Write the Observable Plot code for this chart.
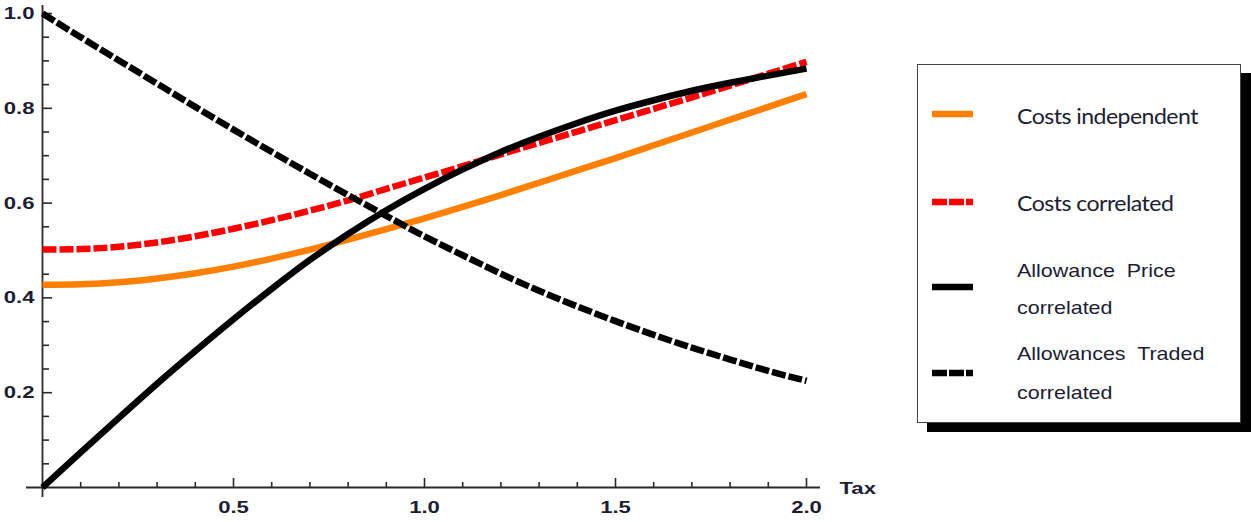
<!DOCTYPE html>
<html><head><meta charset="utf-8">
<script src="https://cdn.jsdelivr.net/npm/d3@7"></script>
<script src="https://cdn.jsdelivr.net/npm/@observablehq/plot@0.6"></script>
<style>
html,body{margin:0;padding:0;background:#fff;}
#wrap{position:relative;width:1251px;height:522px;overflow:hidden;}
#chart{position:absolute;left:0;top:0;}
#legend{position:absolute;left:917px;top:64px;width:322px;height:357px;border:1.5px solid #444;background:#fff;box-shadow:10px 9px 0 #000;box-sizing:content-box;}
.sample{position:absolute;left:14px;width:42px;height:10px;overflow:visible;}
.ltxt{position:absolute;left:99px;white-space:pre;color:#1c1c33;transform-origin:left center;line-height:1;}
.calib{font-family:Lato,"Open Sans",sans-serif;font-size:21px;letter-spacing:-0.5px;}
.arial{font-family:"Liberation Sans",Arial,sans-serif;font-size:19px;}
</style></head>
<body><div id="wrap"><div id="chart"></div><div id="legend"></div></div>
<script>
// ---- data ----
const taxValues = [0.0,0.1,0.2,0.3,0.4,0.5,0.6,0.7,0.8,0.9,1.0,1.1,1.2,1.3,1.4,1.5,1.6,1.7,1.8,1.9,2.0];
const costsIndependent = [0.428,0.429,0.433,0.441,0.452,0.466,0.483,0.502,0.523,0.545,0.568,0.592,0.617,0.643,0.669,0.695,0.722,0.749,0.776,0.803,0.830];
const costsCorrelated = [0.502,0.503,0.508,0.517,0.530,0.546,0.564,0.584,0.606,0.630,0.654,0.678,0.703,0.727,0.751,0.775,0.799,0.823,0.848,0.873,0.898];
const allowancePrice = [0.000,0.074,0.147,0.219,0.288,0.355,0.419,0.480,0.535,0.585,0.630,0.671,0.708,0.740,0.769,0.795,0.817,0.837,0.854,0.869,0.884];
const allowancesTraded = [1.000,0.950,0.901,0.852,0.803,0.755,0.708,0.662,0.617,0.573,0.530,0.490,0.451,0.415,0.382,0.351,0.322,0.295,0.270,0.246,0.225];

const seriesNames = ["Costs independent","Costs correlated","Allowance  Price\ncorrelated","Allowances  Traded\ncorrelated"];
const seriesColors = ["#ff8000","#ff0000","#000000","#000000"];
const seriesDash = [null,"14,3",null,"14,3"];

const yMajorTicks = [0.2,0.4,0.6,0.8,1.0];
const yMinorTicks = [0.05,0.1,0.15,0.25,0.3,0.35,0.45,0.5,0.55,0.65,0.7,0.75,0.85,0.9,0.95];
const xMajorTicks = [0.5,1.0,1.5,2.0];
const xMinorTicks = [0.1,0.2,0.3,0.4,0.6,0.7,0.8,0.9,1.1,1.2,1.3,1.4,1.6,1.7,1.8,1.9];
const xAxisLabel = "Tax";

const seriesValues = [costsIndependent,costsCorrelated,allowancePrice,allowancesTraded];
const rows = [];
seriesValues.forEach((vals,s)=>vals.forEach((v,i)=>rows.push({x:taxValues[i],y:v,s})));

const W=1251,H=522, mL=42, mR=W-806, mT=13, mB=H-487;
const pxX = 2/(806-42), pxY = 1/(487-13);
const axisColor="#2a2a2a";
const txtColor="#1c1c33";

const marks = [
  Plot.ruleX([0],{y1:-10*pxY,y2:1+8*pxY,stroke:axisColor,strokeWidth:1.8}),
  Plot.ruleY([0],{x1:-16*pxX,x2:2+14*pxX,stroke:axisColor,strokeWidth:1.8}),
  Plot.ruleY(yMajorTicks,{x1:0,x2:10*pxX,stroke:axisColor,strokeWidth:1.6}),
  Plot.ruleY(yMinorTicks,{x1:0,x2:7*pxX,stroke:axisColor,strokeWidth:1.6}),
  Plot.ruleX(xMajorTicks,{y1:0,y2:9*pxY,stroke:axisColor,strokeWidth:1.6}),
  Plot.ruleX(xMinorTicks,{y1:0,y2:5*pxY,stroke:axisColor,strokeWidth:1.6}),
  Plot.axisY(yMajorTicks,{tickSize:0,tickPadding:8,tickFormat:d3.format(".1f"),fontWeight:"bold",fontSize:17,fill:txtColor,label:null}),
  Plot.axisX(xMajorTicks,{tickSize:0,tickPadding:13,tickFormat:d3.format(".1f"),fontWeight:"bold",fontSize:17,fill:txtColor,label:null}),
  Plot.text([xAxisLabel],{frameAnchor:"bottom-right",dx:33,dy:6,textAnchor:"start",fontWeight:"bold",fontSize:17,fill:txtColor})
];
seriesValues.forEach((vals,s)=>{
  const opts={x:"x",y:"y",stroke:seriesColors[s],strokeWidth:6.5,strokeLinecap:"butt",strokeLinejoin:"round",curve:"natural"};
  if (seriesDash[s]) opts.strokeDasharray=seriesDash[s];
  marks.push(Plot.line(rows.filter(d=>d.s===s),opts));
});

const chart = Plot.plot({
  width:W,height:H,marginLeft:mL,marginRight:mR,marginTop:mT,marginBottom:mB,
  x:{domain:[0,2]},y:{domain:[0,1]},
  style:{fontFamily:"'Liberation Sans', Arial, sans-serif",background:"transparent",overflow:"visible"},
  marks
});
// emulate the horizontally stretched lettering of the reference
chart.querySelectorAll("text").forEach(t=>{
  const tr=t.getAttribute("transform");
  if (tr) t.setAttribute("transform",`${tr} scale(1.3,1)`);
});
document.getElementById("chart").appendChild(chart);

// legend
const legend=document.getElementById("legend");
const sampleY=[48.5,136.5,221.5,307.5];
const textY=[[49.5],[136.5],[204.5,241.5],[287.5,326.5]];
const legendDash=[null,"15,2",null,"15,2"];
seriesNames.forEach((name,s)=>{
  const svg=d3.create("svg").attr("class","sample").style("top",(sampleY[s]-5)+"px").attr("width",42).attr("height",10);
  svg.append("line").attr("x1",0).attr("x2",41).attr("y1",5).attr("y2",5)
    .attr("stroke",seriesColors[s]).attr("stroke-width",6.5).attr("stroke-dasharray",legendDash[s]);
  legend.appendChild(svg.node());
  name.split("\n").forEach((ln,k)=>{
    const d=document.createElement("div");
    d.className="ltxt "+(s<2?"calib":"arial");
    d.textContent=ln;
    d.style.top=textY[s][k]+"px";
    d.style.transform=`translateY(-50%) scaleX(${s<2?1.1:1.13})`;
    legend.appendChild(d);
  });
});
</script>
</body></html>
